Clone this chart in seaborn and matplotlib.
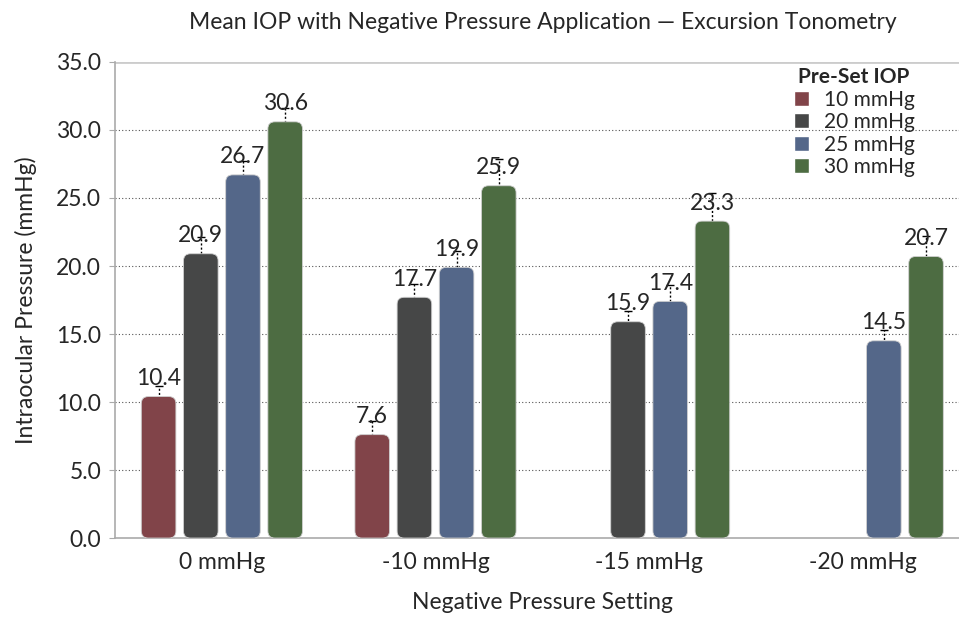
import numpy as np
import pandas as pd
import seaborn as sns
import matplotlib.pyplot as plt
from matplotlib.patches import FancyBboxPatch

# Data
settings = ['0 mmHg', '-10 mmHg', '-15 mmHg', '-20 mmHg']
preset = ['10 mmHg', '20 mmHg', '25 mmHg', '30 mmHg']
iop_10 = [10.4, 7.6, np.nan, np.nan]
iop_20 = [20.9, 17.7, 15.9, np.nan]
iop_25 = [26.7, 19.9, 17.4, 14.5]
iop_30 = [30.6, 25.9, 23.3, 20.7]
err_10 = [0.8, 1.0, np.nan, np.nan]
err_20 = [1.2, 1.0, 0.8, np.nan]
err_25 = [1.0, 1.2, 1.2, 0.8]
err_30 = [1.0, 2.0, 2.1, 1.5]
colors = ['#8b3a40', '#464747', '#4b6592', '#4a733b']

rows = []
for p, vals, errs in zip(preset, [iop_10, iop_20, iop_25, iop_30],
                         [err_10, err_20, err_25, err_30]):
    for s, v, e in zip(settings, vals, errs):
        rows.append({'setting': s, 'preset': p, 'iop': v, 'err': e})
df = pd.DataFrame(rows)

sns.set_style('white')
plt.rcParams['font.family'] = ['Lato', 'DejaVu Sans']

fig = plt.figure(figsize=(9.59, 6.18), dpi=100)
ax = fig.add_axes([0.12, 0.1294, 1.011 - 0.12, 0.8997 - 0.1294])

sns.barplot(data=df.dropna(subset=['iop']), x='setting', y='iop', hue='preset',
            order=settings, hue_order=preset, palette=colors,
            width=0.79, gap=0.18, errorbar=None, ax=ax, zorder=3)

ax.set_xlim(-0.5, 3.5)
ax.set_ylim(0, 35)

# rounded bars + error bars + value labels, from the drawn bars
fig.canvas.draw()
inv = ax.transData.inverted()
px = inv.transform([(0, 0), (1, 1)])
ux, uy = px[1] - px[0]
aspect = uy / ux
lookup = df.dropna(subset=['iop'])
for bar in list(ax.patches):
    x0, w, h = bar.get_x(), bar.get_width(), bar.get_height()
    if np.isnan(h) or h == 0:
        continue
    fc = bar.get_facecolor()
    r = 7 * ux
    fb = FancyBboxPatch((x0 + r, r * aspect), w - 2 * r, h - 2 * r * aspect,
                        boxstyle=f'round,pad={r},rounding_size={r}',
                        mutation_aspect=aspect, facecolor=fc,
                        edgecolor='#d0d0d0', linewidth=0.6, zorder=3)
    ax.add_patch(fb)
    bar.set_visible(False)
    cx = x0 + w / 2
    e = lookup.loc[np.isclose(lookup['iop'], h), 'err'].iloc[0]
    el = ax.errorbar(cx, h, yerr=e, fmt='none', ecolor='black', elinewidth=1.0,
                     capsize=3, capthick=1.0, zorder=2.5)
    el[2][0].set_linestyle((0, (1.5, 1.5)))
    ax.annotate(f'{h:.1f}', (cx, h), xytext=(0, 13), textcoords='offset points',
                ha='center', va='center', fontsize=16.5, zorder=5)

# grid
for yv in range(5, 35, 5):
    ax.axhline(yv, color='#555555', linestyle=(0, (1, 2)), linewidth=0.8, zorder=1)
ax.axhline(35, color='#cccccc', linewidth=2, zorder=1)

ax.set_yticks(np.arange(0, 36, 5))
ax.set_yticklabels([f'{v:.1f}' for v in np.arange(0, 36, 5)], fontsize=16.5)
ax.set_xticks(range(4))
ax.set_xticklabels(settings, fontsize=16.5)
ax.set_xticks(np.arange(-0.5, 3.6, 1), minor=True)
ax.tick_params(axis='x', which='major', length=0, pad=10)
ax.tick_params(axis='x', which='minor', length=4, color='#aaaaaa', direction='out')
ax.tick_params(axis='y', length=4, color='#aaaaaa', direction='out', left=True, pad=6)

for side in ['top', 'right']:
    ax.spines[side].set_visible(False)
for side in ['left', 'bottom']:
    ax.spines[side].set_color('#aaaaaa')
    ax.spines[side].set_linewidth(1.2)

ax.set_xlabel('Negative Pressure Setting', fontsize=16.5, labelpad=14)
ax.set_ylabel('Intraocular Pressure (mmHg)', fontsize=16.5, labelpad=14)
ax.set_title('Mean IOP with Negative Pressure Application \u2014 Excursion Tonometry',
             fontsize=16.5, pad=24)

leg = ax.legend(title='Pre-Set IOP', loc='upper left', bbox_to_anchor=(0.777, 1.02),
                frameon=False, fontsize=15, handlelength=0.75, handleheight=0.75,
                handletextpad=0.7, labelspacing=0.12, borderaxespad=0.3)
leg.get_title().set_fontweight('bold')
leg.get_title().set_fontsize(15)

fig.savefig('out.png', dpi=100)
